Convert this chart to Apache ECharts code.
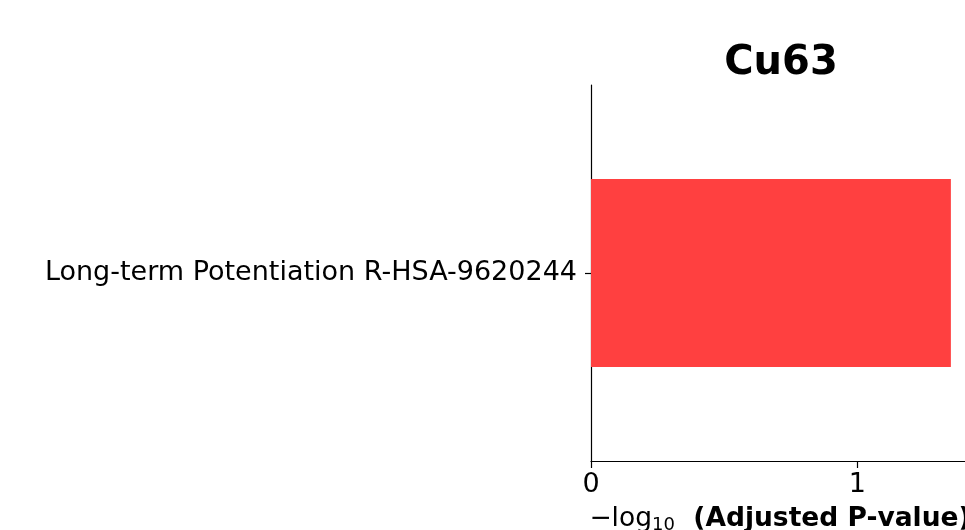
<!DOCTYPE html>
<html>
<head>
<meta charset="utf-8">
<script src="https://cdn.jsdelivr.net/npm/echarts@6/dist/echarts.min.js"></script>
<style>
html,body{margin:0;padding:0;background:#fff;}
#chart{width:965px;height:530px;}
</style>
</head>
<body>
<div id="chart"></div>
<script>
var titleText = 'Cu63';
var categories = ['Long-term Potentiation R-HSA-9620244'];
var values = [1.351];
var xMin = 0;
var xMax = 1.419;
var xInterval = 1;

var chart = echarts.init(document.getElementById('chart'), null, {renderer: 'canvas'});
var font = 'DejaVu Sans';
chart.setOption({
  animation: false,
  backgroundColor: '#ffffff',
  title: {
    text: titleText,
    left: 776,
    top: 39,
    textAlign: 'center',
    textStyle: {fontFamily: font, fontWeight: 'bold', fontSize: 40, color: '#000'}
  },
  grid: {left: 591, top: 85, bottom: 69, width: 378, containLabel: false, outerBoundsMode: 'none'},
  xAxis: {
    type: 'value',
    min: xMin,
    max: xMax,
    interval: xInterval,
    splitLine: {show: false},
    axisLine: {show: true, lineStyle: {color: '#000', width: 1.2}},
    axisTick: {show: true, length: 7, lineStyle: {color: '#000', width: 1.2}},
    axisLabel: {show: true, margin: 10, showMaxLabel: false, fontFamily: font, fontSize: 27, color: '#000'},
    name: '{n|−log}{s|10}{b|  (Adjusted P-value)}',
    nameLocation: 'middle',
    nameGap: 43,
    nameTextStyle: {
      rich: {
        n: {fontFamily: font, fontSize: 26.5, color: '#000'},
        s: {fontFamily: font, fontSize: 18, color: '#000', verticalAlign: 'bottom', padding: [12, 0, 0, 0]},
        b: {fontFamily: font, fontSize: 26.5, fontWeight: 'bold', color: '#000'}
      }
    }
  },
  yAxis: {
    type: 'category',
    data: categories,
    axisLine: {show: true, lineStyle: {color: '#000', width: 1.2}},
    axisTick: {show: true, alignWithLabel: true, length: 6, lineStyle: {color: '#000', width: 1.2}},
    axisLabel: {margin: 14, fontFamily: font, fontSize: 27, color: '#000'},
    splitLine: {show: false}
  },
  series: [{
    type: 'bar',
    data: values,
    barWidth: '50%',
    itemStyle: {color: '#ff4040'}
  }]
});
</script>
</body>
</html>
